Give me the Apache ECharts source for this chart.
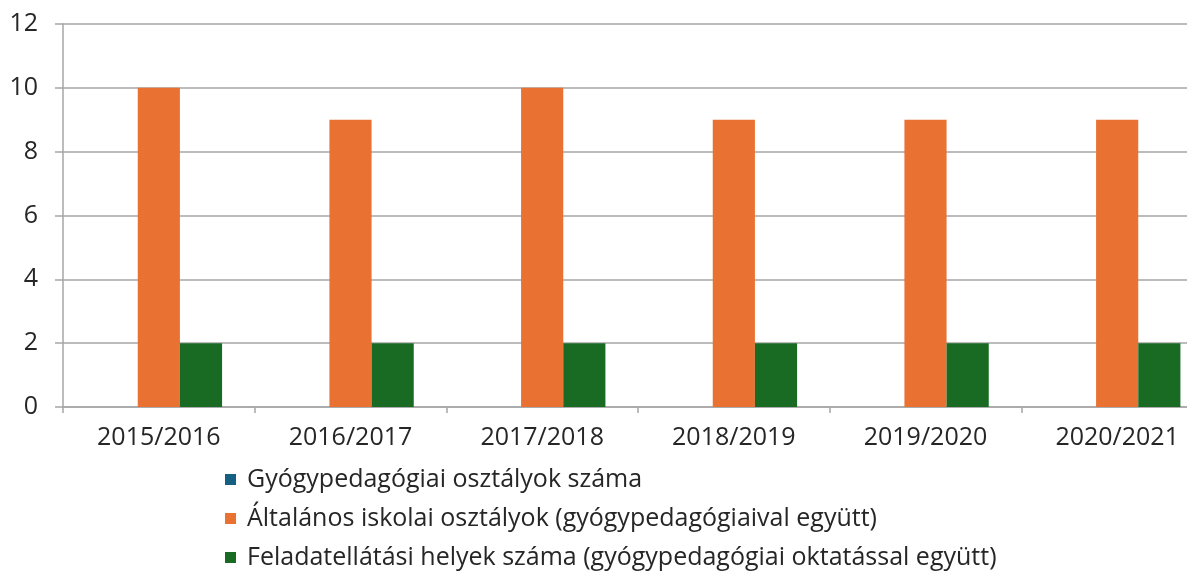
<!DOCTYPE html>
<html>
<head>
<meta charset="utf-8">
<script src="https://cdn.jsdelivr.net/npm/echarts@6/dist/echarts.min.js"></script>
<style>html,body{margin:0;padding:0;background:#fff}#c{width:1187px;height:573px}</style>
</head>
<body>
<div id="c"></div>
<script>
const categories = ['2015/2016','2016/2017','2017/2018','2018/2019','2019/2020','2020/2021'];
const seriesNames = ['Gyógypedagógiai osztályok száma','Általános iskolai osztályok (gyógypedagógiaival együtt)','Feladatellátási helyek száma (gyógypedagógiai oktatással együtt)'];
const gyogyOsztalyok = [0,0,0,0,0,0];
const altalanosOsztalyok = [10,9,10,9,9,9];
const feladatellatasiHelyek = [2,2,2,2,2,2];
const colors = ['#156082','#E97132','#196B24'];
const font = '"Open Sans", sans-serif';

const chart = echarts.init(document.getElementById('c'), null, {renderer:'canvas'});
const values = [gyogyOsztalyok, altalanosOsztalyok, feladatellatasiHelyek];
chart.setOption({
  animation:false,
  color: colors,
  grid:{left:63, top:24, right:-26, height:383, containLabel:false, outerBoundsMode:'none'},
  legend:{
    orient:'vertical', left:225, top:467, height:140, padding:0, itemGap:14, itemWidth:11, itemHeight:11,
    icon:'rect', textStyle:{fontSize:25, color:'#262626', fontFamily:font, padding:[0,0,0,6]},
    data: seriesNames
  },
  xAxis:{
    type:'category', data:categories,
    axisLine:{lineStyle:{color:'#a6a6a6', width:1.5}},
    axisTick:{show:true, length:6, lineStyle:{color:'#a6a6a6', width:1.5}},
    axisLabel:{fontSize:25, color:'#262626', fontFamily:font, margin:18}
  },
  yAxis:{
    type:'value', min:0, max:12, interval:2,
    axisLine:{show:true, lineStyle:{color:'#a6a6a6', width:1.5}},
    axisTick:{show:true, length:8, lineStyle:{color:'#a6a6a6', width:1.5}},
    splitLine:{lineStyle:{color:'#a6a6a6', width:1.5}},
    axisLabel:{fontSize:25, color:'#262626', fontFamily:font, margin:25}
  },
  series: seriesNames.map((n,i)=>({
    name:n, type:'bar', data:values[i], barGap:'0%', barCategoryGap:'34%'
  }))
});
</script>
</body>
</html>
